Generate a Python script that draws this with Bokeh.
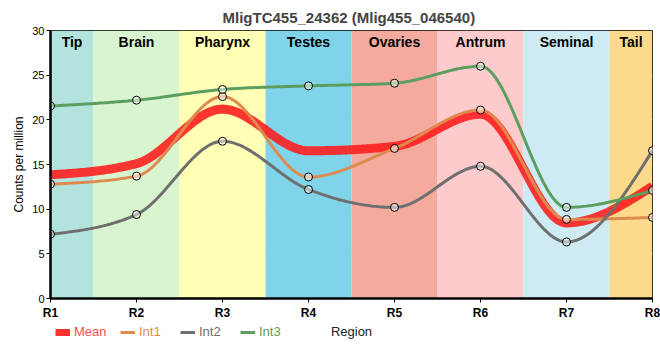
import numpy as np
from bokeh.plotting import figure
from bokeh.layouts import column
from bokeh.models import FixedTicker, Range1d, Label, Legend, LegendItem
from bokeh.core.properties import value
from bokeh.embed import file_html
from bokeh.resources import INLINE

title = "MligTC455_24362 (Mlig455_046540)"
regions = ["R1", "R2", "R3", "R4", "R5", "R6", "R7", "R8"]
tissues = ["Tip", "Brain", "Pharynx", "Testes", "Ovaries", "Antrum", "Seminal", "Tail"]
tissue_colors = ["#b3e3dd", "#d9f5cf", "#ffffb5", "#80d4ea", "#f4ab9e", "#fdcbcb", "#ceebf4", "#fdd98c"]
int1 = [12.8, 13.7, 22.6, 13.6, 16.8, 21.1, 8.85, 9.07]
int2 = [7.2, 9.4, 17.6, 12.2, 10.2, 14.8, 6.33, 16.55]
int3 = [21.55, 22.2, 23.4, 23.8, 24.1, 26.0, 10.2, 12.1]

xs = np.arange(1, len(regions) + 1, dtype=float)
mean = list((np.array(int1) + np.array(int2) + np.array(int3)) / 3.0)


def monotone_curve(x, y, n=40):
    """d3 curveMonotoneX style rendering of a series."""
    x = np.asarray(x, float); y = np.asarray(y, float)
    m = len(x)
    h = np.diff(x); s = np.diff(y) / h
    t = np.zeros(m)
    for i in range(1, m - 1):
        s0, s1 = s[i - 1], s[i]
        p = (s0 * h[i] + s1 * h[i - 1]) / (h[i - 1] + h[i])
        t[i] = (np.sign(s0) + np.sign(s1)) * min(abs(s0), abs(s1), 0.5 * abs(p))
    t[0] = (3 * s[0] - t[1]) / 2
    t[-1] = (3 * s[-1] - t[-2]) / 2
    X, Y = [], []
    for i in range(m - 1):
        u = np.linspace(0, 1, n, endpoint=(i == m - 2))
        dx = h[i]
        p0 = (x[i], y[i]); p3 = (x[i + 1], y[i + 1])
        p1 = (x[i] + dx / 3, y[i] + t[i] * dx / 3)
        p2 = (x[i + 1] - dx / 3, y[i + 1] - t[i + 1] * dx / 3)
        b0 = (1 - u) ** 3; b1 = 3 * u * (1 - u) ** 2; b2 = 3 * u ** 2 * (1 - u); b3 = u ** 3
        X.extend(b0 * p0[0] + b1 * p1[0] + b2 * p2[0] + b3 * p3[0])
        Y.extend(b0 * p0[1] + b1 * p1[1] + b2 * p2[1] + b3 * p3[1])
    return X, Y


FONT = "Liberation Sans"
MEAN_COL = "#ff1a1a"
series = [("Int1", int1, "#dd8a4e"), ("Int2", int2, "#6f6f6f"), ("Int3", int3, "#5b9e60")]

p = figure(width=660, height=322, output_backend="svg", toolbar_location=None,
           min_border_left=50, min_border_right=8, min_border_top=30, min_border_bottom=22,
           x_range=Range1d(1, 8), y_range=Range1d(0, 30))
p.title.text = title
p.title.align = "left"
p.title.offset = 172
p.title.text_font = FONT
p.title.text_font_size = "15px"
p.title.text_font_style = "bold"

# tissue bands
lefts = [max(1, v - 0.5) for v in xs]
rights = [min(8, v + 0.5) for v in xs]
mids = [(a + b) / 2 for a, b in zip(lefts, rights)]
p.quad(left=lefts, right=rights, bottom=0, top=30, fill_color=tissue_colors, line_color=None, level="underlay")

p.xgrid.grid_line_color = "#cccccc"
p.ygrid.grid_line_color = "#cccccc"
p.xgrid.level = "image"
p.ygrid.level = "image"

p.text(x=mids, y=[28.75] * len(xs), text=tissues, text_align="center", text_baseline="middle",
       text_font=value(FONT), text_font_size="14px", text_font_style="bold", text_color="black")

mx, my = monotone_curve(xs, mean)
p.line(mx, my, line_color=MEAN_COL, line_width=9, line_alpha=0.88)
for name, ys, col in series:
    cx, cy = monotone_curve(xs, ys)
    p.line(cx, cy, line_color=col, line_width=3)
for name, ys, col in series:
    p.scatter(list(xs), ys, size=8, fill_color="white", fill_alpha=0.5, line_color="black", line_width=1)

p.xaxis.ticker = FixedTicker(ticks=list(xs))
p.xaxis.major_label_overrides = {int(v): r for v, r in zip(xs, regions)}
p.yaxis.ticker = FixedTicker(ticks=[0, 5, 10, 15, 20, 25, 30])
for ax in (p.xaxis[0], p.yaxis[0]):
    ax.axis_line_width = 2.5
    ax.axis_line_color = "black"
    ax.major_tick_line_color = "black"
    ax.major_tick_out = 4
    ax.major_tick_in = 0
    ax.minor_tick_line_color = None
    ax.major_label_text_font = FONT
    ax.axis_label_text_font = FONT
    ax.axis_label_text_font_style = "normal"
    ax.axis_label_text_font_size = "12px"
    ax.major_label_text_color = "black"
p.xaxis.major_label_text_font_size = "12px"
p.xaxis.major_label_text_font_style = "bold"
p.yaxis.major_label_text_font_size = "11px"
p.yaxis.major_label_standoff = 2
p.xaxis.major_label_standoff = 3
p.yaxis.axis_label = "Counts per million"
p.yaxis.axis_label_standoff = 3
p.yaxis.axis_label_text_color = "black"
p.outline_line_color = "black"
p.outline_line_width = 1
p.outline_line_alpha = 1

# bottom strip: legend (one per item so each label keeps its own colour) and axis title.
# Its frame is aligned with the main frame (left edge at 50px), so offsets are frame-relative.
q = figure(width=660, height=38, output_backend="svg", toolbar_location=None,
           min_border=0, min_border_left=50, min_border_right=8,
           x_range=Range1d(0, 602), y_range=Range1d(0, 38),
           x_axis_type=None, y_axis_type=None)
q.outline_line_color = None
q.xgrid.visible = False
q.ygrid.visible = False
legend_items = [("Mean", MEAN_COL, 7, "#ff4d4d")] + [(n, c, 3, c) for n, _, c in series]
leg_x = [5, 70, 130, 190]
for (name, col, lw, tcol), lx in zip(legend_items, leg_x):
    # dummy renderer outside the visible range, used only for the legend swatch
    r = q.line(x=[-50, -40], y=[-50, -50], line_color=col, line_width=lw,
               line_alpha=0.9 if name == "Mean" else 1)
    lg = Legend(items=[LegendItem(label=name, renderers=[r])], location=(lx, 21),
                orientation="horizontal", background_fill_alpha=0, border_line_color=None,
                label_text_color=tcol, label_text_font=FONT, label_text_font_size="13px",
                glyph_width=15, glyph_height=12, label_standoff=4, padding=0, margin=0,
                label_height=12, spacing=0)
    q.add_layout(lg, "center")
q.add_layout(Label(x=301, y=29, x_units="screen", y_units="screen", text="Region",
                   text_align="center", text_baseline="middle", text_font=FONT,
                   text_font_size="13px", text_color="#222222"))

open("out.html", "w").write(file_html(column(p, q, spacing=0), INLINE))
